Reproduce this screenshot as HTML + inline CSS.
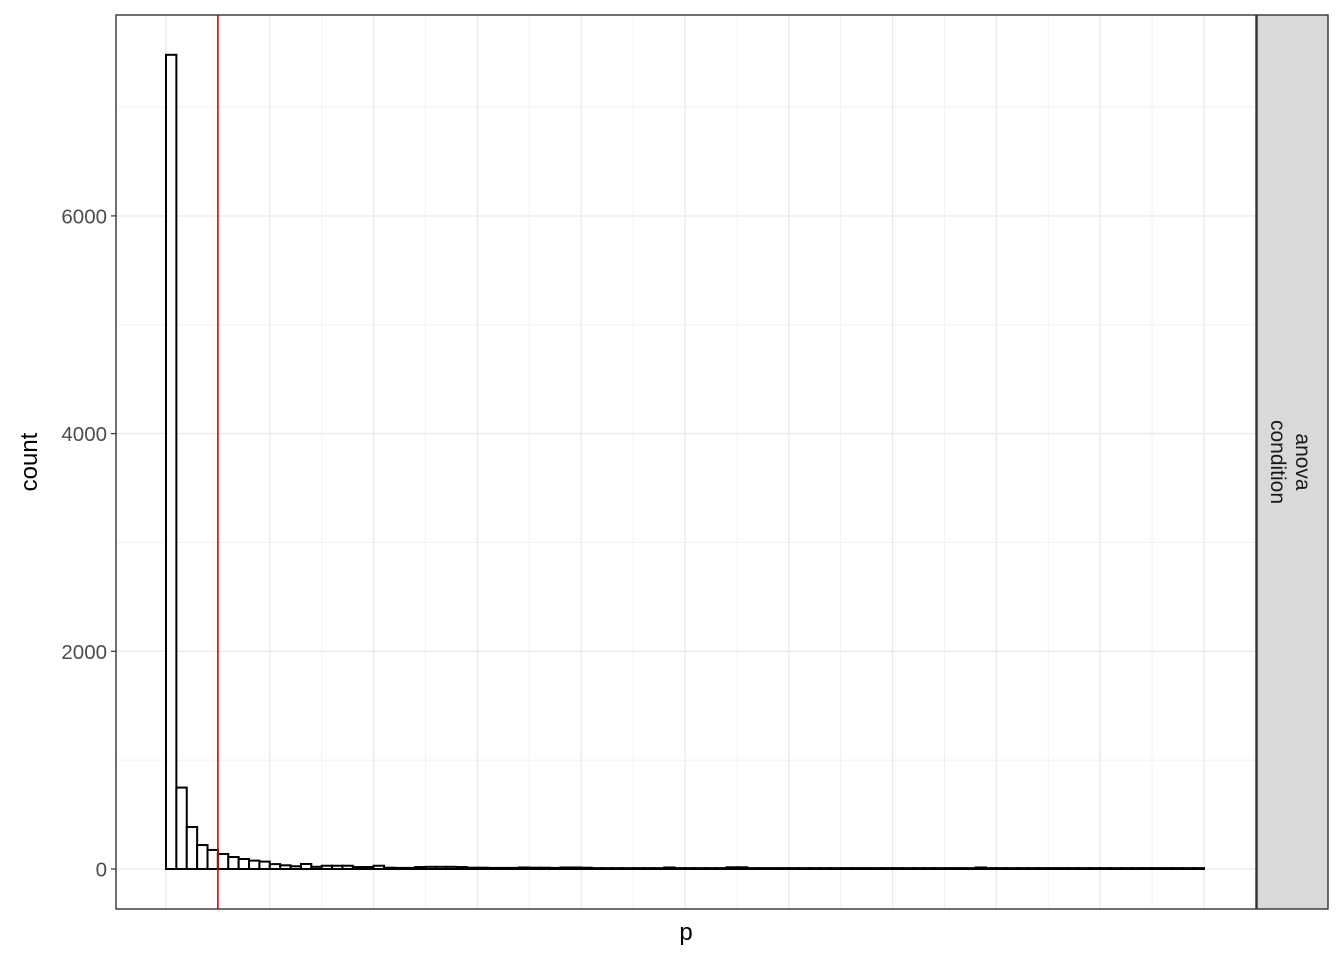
<!DOCTYPE html>
<html><head><meta charset="utf-8"><style>
html,body{margin:0;padding:0;background:#fff;}
svg{display:block;font-family:"Liberation Sans",Arial,sans-serif;}
</style></head><body>
<svg id="chart" width="1344" height="960" viewBox="0 0 1344 960"></svg>
<script>
const binCounts = [7480,748,386,220,175,138,110,92,77,68,45,34,25,46,20,30,30,30,18,18,30,12,10,10,18,20,20,20,18,12,12,10,10,10,14,12,12,10,14,14,12,8,8,8,8,8,8,8,14,8,8,8,8,8,16,16,8,8,8,8,8,8,8,8,8,8,8,8,8,8,8,8,8,8,8,8,8,8,14,8,8,8,8,8,8,8,8,8,8,8,8,8,8,8,8,8,8,8,8,8];
const yTicks = [0,2000,4000,6000];
const xTicks = [0,0.1,0.2,0.3,0.4,0.5,0.6,0.7,0.8,0.9,1.0];
const cutoff = [0.05];

const NS="http://www.w3.org/2000/svg";
const svg=document.getElementById('chart');
const P={l:116,r:1256,t:15,b:909};
const x0=166,x1=1204, y0=869, yPer=217.7/2000;
const xs=v=>x0+(x1-x0)*v;
const ys=v=>y0-v*yPer;
function mk(t,a,p){const e=document.createElementNS(NS,t);for(const k in a)e.setAttribute(k,a[k]);(p||svg).appendChild(e);return e;}

const panel=mk('rect',{x:P.l,y:P.t,width:P.r-P.l,height:P.b-P.t,fill:'#fff'});



for(let i=0;i<xTicks.length-1;i++){
  const g=mk('line',{x1:xs((xTicks[i]+xTicks[i+1])/2),x2:xs((xTicks[i]+xTicks[i+1])/2),y1:P.t,y2:P.b,stroke:'#f2f2f2','stroke-width':1});
  
  
}
for(let i=0;i<yTicks.length;i++){
  const v=yTicks[i]+1000;
  if(ys(v)>P.t){
    const g=mk('line',{x1:P.l,x2:P.r,y1:ys(v),y2:ys(v),stroke:'#f2f2f2','stroke-width':1});
    
    
  }
}
xTicks.forEach(v=>{
  const g=mk('line',{x1:xs(v),x2:xs(v),y1:P.t,y2:P.b,stroke:'#ebebeb','stroke-width':1.4});
  
  
});
yTicks.forEach(v=>{
  const g=mk('line',{x1:P.l,x2:P.r,y1:ys(v),y2:ys(v),stroke:'#ebebeb','stroke-width':1.4});
  
  
  const t=mk('line',{x1:P.l-5,x2:P.l,y1:ys(v),y2:ys(v),stroke:'#333','stroke-width':1.2});
  
  
  const l=mk('text',{x:P.l-9,y:ys(v)+7.5,'text-anchor':'end','font-size':20.5,fill:'#4d4d4d'});
  l.textContent=v;
  
  
});

const bw=(x1-x0)/binCounts.length;
binCounts.forEach((c,i)=>{
  const b=mk('rect',{x:x0+i*bw,y:ys(c),width:bw,height:y0-ys(c),fill:'#fff',stroke:'#000','stroke-width':2});
  
  
});
cutoff.forEach(v=>{
  const r=mk('line',{x1:xs(v),x2:xs(v),y1:P.t,y2:P.b,stroke:'#e00000','stroke-width':1.6});
  
  
});
const border=mk('rect',{x:P.l,y:P.t,width:P.r-P.l,height:P.b-P.t,fill:'none',stroke:'#333','stroke-width':1.4});



const strip=mk('rect',{x:1257,y:P.t,width:71,height:P.b-P.t,fill:'#d9d9d9',stroke:'#333','stroke-width':1.4});


const st=mk('text',{transform:'translate(1293,462) rotate(90)','text-anchor':'middle','font-size':21,fill:'#1a1a1a'});


const s1=mk('tspan',{x:0,dy:'-0.15em'},st);s1.textContent='anova';
const s2=mk('tspan',{x:0,dy:'1.2em'},st);s2.textContent='condition';

const xl=mk('text',{x:(P.l+P.r)/2,y:940,'text-anchor':'middle','font-size':24,fill:'#000'});
xl.textContent='p';


const yl=mk('text',{transform:'translate(37,462) rotate(-90)','text-anchor':'middle','font-size':24,fill:'#000'});
yl.textContent='count';


</script>
</body></html>
